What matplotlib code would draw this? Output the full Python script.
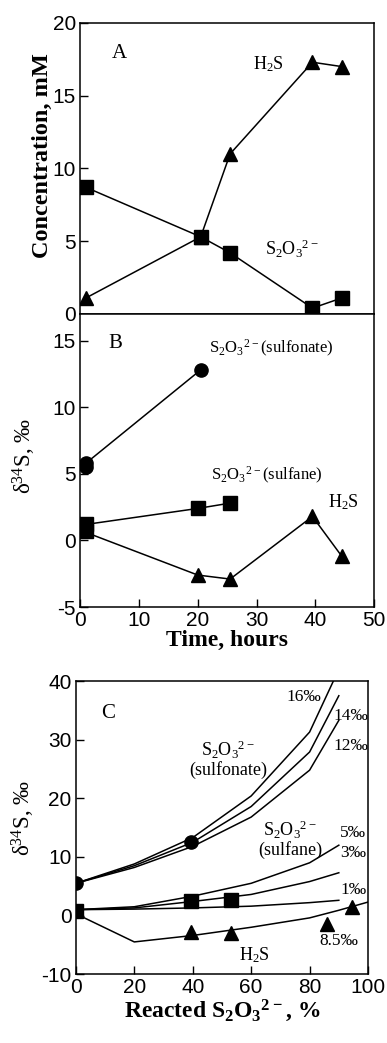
import numpy as np
import matplotlib
matplotlib.use('Agg')
from matplotlib import pyplot as plt

plt.rcParams['font.family'] = ['Liberation Serif', 'DejaVu Serif']
plt.rcParams['mathtext.default'] = 'regular'
plt.rcParams['axes.unicode_minus'] = False

# panel A: concentrations vs time
t_thio = [1, 20.5, 25.5, 39.5, 44.5]
conc_thio = [8.7, 5.3, 4.2, 0.4, 1.1]
t_h2s = [1, 20.5, 25.5, 39.5, 44.5]
conc_h2s = [1.1, 5.3, 11.0, 17.3, 17.0]

# panel B: d34S vs time
t_sulfonate = [1, 1, 20.5]
d_sulfonate = [5.5, 5.8, 12.8]
t_sulfane = [1, 1, 20, 25.5]
d_sulfane = [0.7, 1.2, 2.4, 2.8]
t_h2s_b = [1, 20, 25.5, 39.5, 44.5]
d_h2s_b = [0.6, -2.6, -2.9, 1.8, -1.2]

# panel C: d34S vs reacted thiosulfate, measured points
f_sulfonate = [0, 39.5]
dc_sulfonate = [5.5, 12.6]
f_sulfane = [0, 39.5, 53]
dc_sulfane = [0.8, 2.4, 2.6]
f_h2s = [39.5, 53, 86, 94.5]
dc_h2s = [-2.8, -3.0, -1.5, 1.4]

# panel C: model curves
f_model = [0, 20, 40, 60, 80, 90]
m16 = [5.5, 8.8, 13.3, 20.4, 31.3, 42.0]
m14 = [5.5, 8.5, 12.5, 18.6, 27.9, 37.5]
m12 = [5.5, 8.2, 11.8, 16.8, 24.8, 33.3]
m5 = [1.0, 1.5, 3.3, 5.5, 9.0, 12.0]
m3 = [1.0, 1.3, 2.4, 3.6, 5.8, 7.3]
m1 = [1.0, 1.1, 1.3, 1.6, 2.2, 2.6]
f_m85 = [0, 20, 40, 60, 80, 90, 100]
m85 = [0.3, -4.5, -3.4, -2.0, -0.4, 0.9, 2.3]

thio = r'S$_2$O$_3$$^{2-}$'
tickfont = ['Liberation Sans', 'DejaVu Sans']

fig = plt.figure(figsize=(3.87, 10.43), dpi=100)
axA = fig.add_axes([0.207, 0.699, 0.760, 0.279])
axB = fig.add_axes([0.207, 0.418, 0.760, 0.281], sharex=axA)
axC = fig.add_axes([0.196, 0.066, 0.755, 0.281])

lk = dict(color='black', lw=1.1)

axA.plot(t_h2s, conc_h2s, marker='^', ms=10, **lk)
axA.plot(t_thio, conc_thio, marker='s', ms=10.5, **lk)
axA.set_ylim(0, 20)
axA.set_yticks([0, 5, 10, 15, 20])
axA.set_ylabel('Concentration, mM', fontsize=17.5, fontweight='bold')
axA.yaxis.set_label_coords(-0.094, 0.545)
axA.text(6.7, 17.9, 'A', fontsize=15, ha='center', va='center')
axA.text(32, 17.2, r'H$_2$S', fontsize=13, ha='center', va='center')
axA.text(36, 4.5, thio, fontsize=13, ha='center', va='center')
axA.tick_params(axis='x', which='both', bottom=False, labelbottom=False)

axB.plot(t_sulfonate[1:], d_sulfonate[1:], marker='o', ms=9.5, **lk)
axB.plot(t_sulfonate[:1], d_sulfonate[:1], marker='o', ms=9.5, ls='none', color='black')
axB.plot(t_h2s_b, d_h2s_b, marker='^', ms=10, markevery=slice(1, None), **lk)
axB.plot(t_sulfane[1:], d_sulfane[1:], marker='s', ms=9.5, **lk)
axB.plot(t_sulfane[:1], d_sulfane[:1], marker='s', ms=9.5, ls='none', color='black')
axB.set_xlim(0, 50)
axB.set_ylim(-5, 17)
axB.set_yticks([-5, 0, 5, 10, 15])
axB.set_xticks([0, 10, 20, 30, 40, 50])
axB.set_ylabel(r'$\delta^{34}$S, ‰', fontsize=16.5)
axB.yaxis.set_label_coords(-0.143, 0.517)
axB.set_xlabel('Time, hours', fontsize=17, fontweight='bold', labelpad=0)
axB.text(5.9, 14.8, 'B', fontsize=15, ha='center', va='center')
axB.text(32.5, 14.4, thio + '(sulfonate)', fontsize=12, ha='center', va='center')
axB.text(31.8, 4.9, thio + '(sulfane)', fontsize=12, ha='center', va='center')
axB.text(44.7, 2.9, r'H$_2$S', fontsize=13, ha='center', va='center')

for m in (m16, m14, m12, m5, m3, m1):
    axC.plot(f_model, m, **lk)
axC.plot(f_m85, m85, **lk)
axC.plot(f_sulfonate, dc_sulfonate, marker='o', ms=9.5, ls='none', color='black')
axC.plot(f_sulfane, dc_sulfane, marker='s', ms=9.5, ls='none', color='black')
axC.plot(f_h2s, dc_h2s, marker='^', ms=9.5, ls='none', color='black')
axC.set_xlim(0, 100)
axC.set_ylim(-10, 40)
axC.set_xticks([0, 20, 40, 60, 80, 100])
axC.set_yticks([-10, 0, 10, 20, 30, 40])
axC.set_ylabel(r'$\delta^{34}$S, ‰', fontsize=16.5)
axC.yaxis.set_label_coords(-0.133, 0.534)
axC.set_xlabel('Reacted ' + thio + ', %', fontsize=17, fontweight='bold', labelpad=0)
axC.text(11, 34.5, 'C', fontsize=15, ha='center', va='center')
axC.text(52, 28.3, thio, fontsize=13, ha='center', va='center')
axC.text(52, 24.8, '(sulfonate)', fontsize=13, ha='center', va='center')
axC.text(73.5, 14.6, thio, fontsize=13, ha='center', va='center')
axC.text(73.5, 11.2, '(sulfane)', fontsize=13, ha='center', va='center')
axC.text(78, 37.3, '16‰', fontsize=12.5, ha='center', va='center')
axC.text(94, 34.0, '14‰', fontsize=12.5, ha='center', va='center')
axC.text(94, 29.0, '12‰', fontsize=12.5, ha='center', va='center')
axC.text(95, 14.0, '5‰', fontsize=12.5, ha='center', va='center')
axC.text(95, 10.6, '3‰', fontsize=12.5, ha='center', va='center')
axC.text(95, 4.4, '1‰', fontsize=12.5, ha='center', va='center')
axC.text(90, -4.3, '8.5‰', fontsize=12.5, ha='center', va='center')
axC.text(61, -6.8, r'H$_2$S', fontsize=13, ha='center', va='center')

for ax in (axA, axB, axC):
    ax.tick_params(direction='in', length=6, width=1, labelsize=15, pad=3)
    ax.tick_params(top=False, right=False)
    for lab in ax.get_xticklabels() + ax.get_yticklabels():
        lab.set_family(tickfont)
    for s in ax.spines.values():
        s.set_linewidth(1.1)

plt.savefig('out.png', dpi=100)
